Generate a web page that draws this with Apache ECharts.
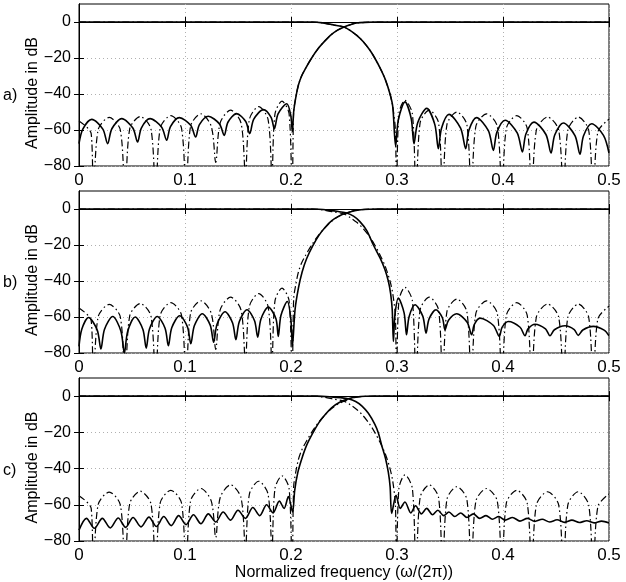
<!DOCTYPE html>
<html>
<head>
<meta charset="utf-8">
<script src="https://cdn.jsdelivr.net/npm/echarts@6/dist/echarts.min.js"></script>
<style>
html,body{margin:0;padding:0;background:#fff;}
#chart{width:626px;height:582px;}
</style>
</head>
<body>
<div id="chart"></div>
<script>
// ---------- data: [normalized frequency, amplitude dB] ----------
const xTicks = [0, 0.1, 0.2, 0.3, 0.4, 0.5];
const yTicks = [-80, -60, -40, -20, 0];
const panelLabels = ['a)', 'b)', 'c)'];
const yTitle = 'Amplitude in dB';
const xTitle = 'Normalized frequency (\u03c9/(2\u03c0))';

// dash-dot reference highpass (same in all panels)
const refHigh = [[0,-55],[0.0115,-62],[0.0135,-100],[0.018,-60],[0.0285,-53],[0.039,-60],[0.0434,-100],
 [0.0478,-59.5],[0.0578,-52.5],[0.0679,-59.5],[0.0723,-100],[0.0766,-59],[0.0866,-52],[0.0967,-59],[0.101,-100],
 [0.1052,-58],[0.115,-51],[0.1248,-58],[0.129,-78],[0.1332,-56],[0.143,-49],[0.1528,-56],[0.157,-85],
 [0.1608,-54],[0.1695,-47],[0.1783,-54],[0.182,-85],[0.1849,-51],[0.1915,-44],[0.1982,-51],[0.201,-100],
 [0.2025,-50],[0.2045,-42],[0.207,-35],[0.210,-30],[0.2135,-26],[0.2195,-20],[0.226,-14.5],[0.232,-10.5],
 [0.238,-7],[0.244,-4.5],[0.25,-2.8],[0.256,-1.5],[0.262,-0.6],[0.27,-0.2],[0.28,0],[0.5,0]];
// dash-dot reference lowpass (same in all panels)
const refLow = [[0,0],[0.22,0],[0.23,-0.5],[0.2398,-1.6],[0.25,-2.8],[0.256,-4.8],[0.262,-7.4],[0.268,-10.8],
 [0.2745,-15.7],[0.279,-20],[0.284,-25.5],[0.289,-32],[0.2934,-40],[0.296,-47],[0.2985,-60],[0.2995,-100],
 [0.3018,-51],[0.3075,-43.5],[0.3145,-51],[0.318,-100],[0.3218,-56],[0.3305,-49],[0.3392,-56],[0.343,-100],
 [0.3471,-57],[0.3565,-50],[0.3659,-57],[0.370,-100],[0.3744,-58],[0.3845,-51],[0.3946,-58],[0.399,-100],
 [0.4032,-59],[0.413,-52],[0.4228,-59],[0.427,-100],[0.4315,-60],[0.442,-52.8],[0.4525,-60],[0.457,-100],
 [0.4612,-60],[0.471,-52.8],[0.4808,-60],[0.485,-100],[0.4895,-61],[0.5,-54]];

// panel a) solid
const aHigh = [[0,-67.6],[0.0036,-59.5],[0.012,-54.1],[0.0225,-59.5],[0.027,-67.6],[0.031,-59.3],[0.0403,-53.7],
 [0.0508,-58.9],[0.0553,-66.7],[0.0588,-58.9],[0.067,-53.7],[0.078,-58.5],[0.0827,-65.7],[0.0863,-58.1],
 [0.0947,-53.1],[0.1054,-57.4],[0.110,-63.9],[0.1136,-57],[0.122,-52.4],[0.1325,-56.6],[0.137,-63],
 [0.1405,-55.7],[0.1487,-50.9],[0.1573,-55.3],[0.161,-62],[0.1649,-54],[0.174,-48.7],[0.1812,-53],
 [0.1843,-59.3],[0.1878,-51],[0.196,-45.4],[0.1997,-51.6],[0.2013,-61],
 [0.2025,-50],[0.2045,-42],[0.207,-35],[0.210,-30],[0.2135,-26],[0.2195,-20],[0.226,-14.5],[0.232,-10.5],
 [0.238,-7],[0.244,-4.5],[0.25,-2.8],[0.256,-1.5],[0.262,-0.6],[0.27,-0.2],[0.28,0],[0.5,0]];
const aLow = [[0,0],[0.22,0],[0.23,-0.5],[0.2398,-1.6],[0.25,-2.8],[0.256,-4.8],[0.262,-7.4],[0.268,-10.8],
 [0.2745,-15.7],[0.279,-20],[0.284,-25.5],[0.289,-32],[0.2934,-40],[0.296,-47],[0.2987,-69],
 [0.3013,-54.2],[0.3075,-44.4],[0.3134,-53.7],[0.316,-67.6],[0.3196,-55.8],[0.328,-48],[0.3357,-57],
 [0.339,-70.4],[0.342,-59],[0.349,-51.3],[0.360,-59],[0.3648,-70.4],[0.3679,-60],[0.375,-53.1],[0.3862,-60.4],
 [0.3909,-71.3],[0.3942,-61.3],[0.402,-54.6],[0.4134,-61.6],[0.4183,-72.2],[0.4216,-62.2],[0.4292,-55.6],
 [0.4405,-62.5],[0.4453,-72.8],[0.4488,-62.8],[0.4569,-56.1],[0.4679,-63.1],[0.4726,-73.5],[0.4759,-63.3],
 [0.4837,-56.5],[0.4948,-63],[0.5,-72.8]];

// panel b) solid
const bHigh = [[0,-76.3],[0.0027,-66.7],[0.009,-60.3],[0.0172,-67.3],[0.0207,-77.8],[0.024,-66.9],[0.0318,-59.7],
 [0.0395,-67.8],[0.0428,-80],[0.0459,-68],[0.053,-60],[0.0603,-66.9],[0.0634,-77.3],[0.0665,-66.7],[0.0738,-59.7],
 [0.0812,-66.2],[0.0843,-76],[0.0875,-66],[0.095,-59.3],[0.1023,-65.5],[0.1055,-74.9],[0.1088,-64.9],
 [0.1163,-58.2],[0.1238,-64.5],[0.127,-74],[0.1303,-63.9],[0.1378,-57.1],[0.1449,-63.3],[0.148,-72.6],
 [0.1512,-62.6],[0.1585,-56],[0.1656,-62.1],[0.1686,-71.2],[0.1716,-61.2],[0.1786,-54.5],[0.1858,-61],
 [0.188,-70.8],[0.1905,-59.2],[0.1965,-51.4],[0.1999,-61.4],[0.2013,-76.3],
 [0.2038,-56],[0.207,-44],[0.2105,-35],[0.2148,-27.5],[0.2205,-20.5],[0.2265,-14.5],[0.2325,-10],
 [0.2385,-6.5],[0.2455,-3.8],[0.2525,-2.2],[0.26,-1],[0.268,-0.3],[0.28,0],[0.5,0]];
const bLow = [[0,0],[0.22,0],[0.235,-0.6],[0.2455,-1.5],[0.2525,-2.2],[0.259,-4],[0.265,-7],[0.2715,-12],
 [0.2777,-20],[0.284,-27.2],[0.2885,-33.5],[0.2918,-40],[0.294,-47],[0.2955,-56],[0.2966,-73.6],
 [0.298,-59.1],[0.3013,-49.5],[0.3067,-57.7],[0.309,-69.9],[0.3114,-59.9],[0.317,-53.2],[0.3243,-59.5],
 [0.3274,-69],[0.3302,-61.2],[0.3368,-56],[0.3428,-60.4],[0.3453,-67.1],[0.3486,-61.8],[0.3563,-58.2],
 [0.3662,-62.9],[0.3704,-69.9],[0.3728,-64.3],[0.3783,-60.6],[0.391,-64.7],[0.3965,-70.8],[0.3991,-65.8],
 [0.405,-62.5],[0.4161,-65.7],[0.4208,-70.4],[0.4236,-66.6],[0.4302,-64],[0.4401,-66.6],[0.4443,-70.4],
 [0.4485,-67.1],[0.4585,-64.9],[0.4672,-67],[0.471,-70.2],[0.4753,-67.2],[0.4852,-65.2],[0.4954,-67.3],[0.5,-70.4]];

// panel c) solid
const cHigh = [[0,-74],[0.007,-67.5],[0.0145,-73],[0.022,-67.5],[0.0295,-72.8],[0.037,-67.3],[0.044,-72.5],
 [0.051,-67],[0.0585,-72.2],[0.066,-66.8],[0.073,-72],[0.080,-66.5],[0.087,-71.5],[0.094,-66],[0.101,-71],
 [0.108,-65.5],[0.115,-70.5],[0.122,-65],[0.129,-69.5],[0.136,-64],[0.143,-68.5],[0.150,-63],[0.157,-67.5],
 [0.164,-61.5],[0.1705,-66],[0.177,-60],[0.183,-64.5],[0.189,-58],[0.1935,-62],[0.1975,-55.5],[0.2015,-64],
 [0.2035,-52],[0.2065,-42],[0.2105,-34],[0.2148,-27.1],[0.2205,-20.5],[0.2265,-14.5],[0.2325,-10],
 [0.2385,-6.3],[0.2455,-3.5],[0.254,-1.5],[0.262,-0.5],[0.27,-0.1],[0.28,0],[0.5,0]];
const cLow = [[0,0],[0.225,0],[0.238,-0.4],[0.247,-0.9],[0.254,-1.5],[0.261,-3],[0.267,-5.5],[0.273,-9.5],
 [0.279,-15.5],[0.2825,-20.5],[0.2855,-27.1],[0.289,-34],[0.2918,-42],[0.2935,-50],[0.295,-64.8],
 [0.2991,-54.7],[0.303,-62],[0.3075,-58.5],[0.313,-64.5],[0.3175,-60.5],[0.323,-65],[0.328,-62],[0.3335,-65.5],
 [0.3385,-63],[0.344,-66],[0.349,-64],[0.3545,-66.5],[0.36,-64.5],[0.366,-67],[0.372,-65],[0.378,-67.5],
 [0.384,-66],[0.39,-68],[0.396,-66.5],[0.402,-68.5],[0.409,-67],[0.416,-69],[0.423,-67.5],[0.43,-69.2],
 [0.437,-68],[0.444,-69.5],[0.451,-68.3],[0.458,-69.7],[0.465,-68.5],[0.472,-69.8],[0.479,-68.8],[0.486,-70],
 [0.493,-69],[0.5,-70]];

// ---------- chart ----------
const FONT = '"Liberation Sans", Arial, Helvetica, sans-serif';
const panels = [
  {top: 4, height: 162, high: aHigh, low: aLow},
  {top: 191, height: 162, high: bHigh, low: bLow},
  {top: 378, height: 163, high: cHigh, low: cLow}
];

const grids = [], xAxes = [], yAxes = [], series = [], graphics = [];
const fmtX = v => (v === 0 ? '0' : (+v).toFixed(1));
const fmtY = v => (v > 0 ? '' : (v < 0 ? '\u2212' + Math.abs(v) : '0'));

panels.forEach((p, i) => {
  grids.push({left: 79, right: 17, top: p.top, height: p.height, show: true,
    borderColor: '#000', borderWidth: 1, backgroundColor: 'transparent'});
  const xBase = {type: 'value', gridIndex: i, min: xTicks[0], max: xTicks[xTicks.length - 1], interval: 0.1};
  xAxes.push(Object.assign({}, xBase, {
    position: 'bottom',
    axisLine: {show: true, lineStyle: {color: '#000', width: 1}},
    axisTick: {show: true, inside: true, length: 5, lineStyle: {color: '#000'}},
    axisLabel: {show: true, color: '#000', fontSize: 17, fontFamily: FONT, margin: 6, formatter: fmtX},
    splitLine: {show: true, lineStyle: {color: '#b0b0b0', width: 1, type: [1, 3]}},
    name: i === 2 ? xTitle : '',
    nameLocation: 'middle', nameGap: 24,
    nameTextStyle: {color: '#000', fontSize: 16, fontFamily: FONT}
  }));
  xAxes.push(Object.assign({}, xBase, {
    position: 'top',
    axisLine: {show: true, lineStyle: {color: '#000', width: 1}},
    axisTick: {show: true, inside: true, length: 5, lineStyle: {color: '#000'}},
    axisLabel: {show: false}, splitLine: {show: false}
  }));
  const yBase = {type: 'value', gridIndex: i, min: -80, max: 10, interval: 20};
  yAxes.push(Object.assign({}, yBase, {
    position: 'left',
    axisLine: {show: true, lineStyle: {color: '#000', width: 1}},
    axisTick: {show: true, inside: true, length: 5, lineStyle: {color: '#000'},
      customValues: yTicks},
    axisLabel: {show: true, color: '#000', fontSize: 16, fontFamily: FONT, margin: 8, formatter: fmtY},
    splitLine: {show: true, lineStyle: {color: '#b0b0b0', width: 1, type: [1, 3]}}
  }));
  yAxes.push(Object.assign({}, yBase, {
    position: 'right',
    axisLine: {show: true, lineStyle: {color: '#000', width: 1}},
    axisTick: {show: true, inside: true, length: 5, lineStyle: {color: '#000'},
      customValues: yTicks},
    axisLabel: {show: false}, splitLine: {show: false}
  }));

  const dashDot = {color: '#000', width: 1.2, type: [7, 3, 1.5, 3]};
  const solid = {color: '#000', width: 1.6};
  const common = {type: 'line', xAxisIndex: 2 * i, yAxisIndex: 2 * i, showSymbol: false,
    symbol: 'none', clip: true, silent: true, animation: false};
  series.push(Object.assign({}, common, {data: refHigh, smooth: 0.3, lineStyle: dashDot}));
  series.push(Object.assign({}, common, {data: refLow, smooth: 0.3, lineStyle: dashDot}));
  series.push(Object.assign({}, common, {data: p.high, smooth: 0.3, lineStyle: solid}));
  series.push(Object.assign({}, common, {data: p.low, smooth: 0.3, lineStyle: solid}));

  const cy = p.top + p.height / 2;
  graphics.push({type: 'text', left: 3, top: cy + 3,
    style: {text: panelLabels[i], fill: '#000', font: '16px ' + FONT}});
  graphics.push({type: 'text', x: 33, y: cy + 8, rotation: Math.PI / 2,
    style: {text: yTitle, fill: '#000', font: '16px ' + FONT, align: 'center', verticalAlign: 'middle'}});
});

const chart = echarts.init(document.getElementById('chart'), null, {renderer: 'canvas'});
chart.setOption({
  animation: false,
  backgroundColor: '#fff',
  grid: grids, xAxis: xAxes, yAxis: yAxes, series: series, graphic: graphics
});
</script>
</body>
</html>
